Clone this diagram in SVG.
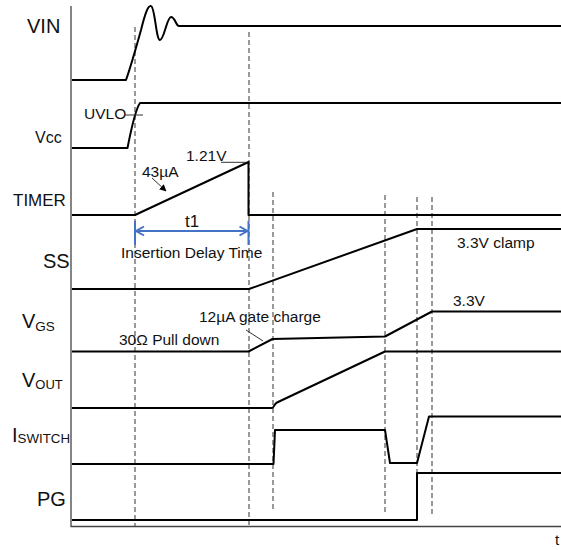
<svg xmlns="http://www.w3.org/2000/svg" width="561" height="550" viewBox="0 0 561 550">
<defs>
<style>
.sig{fill:none;stroke:#000;stroke-width:2;stroke-linejoin:round}
.axis{fill:none;stroke:#444;stroke-width:1.3}
.dash{fill:none;stroke:#555;stroke-width:1.2;stroke-dasharray:5,3}
.lbl{font-family:"Liberation Sans",Arial,sans-serif;fill:#111}
.ann{font-family:"Liberation Sans",Arial,sans-serif;font-size:15.5px;fill:#111}
.lead{fill:none;stroke:#333;stroke-width:1}
.blue{fill:none;stroke:#4472C4;stroke-width:2}
</style>
<marker id="ah" viewBox="0 0 10 10" refX="9" refY="5" markerWidth="7" markerHeight="7" orient="auto">
<path d="M0,0 L10,5 L0,10 z" fill="#000"/>
</marker>
</defs>
<rect width="561" height="550" fill="#fff"/>

<g id="axes">
<path class="axis" d="M71,6 V526.5 H561"/>
<text class="lbl" x="555" y="545" font-size="15">t</text>
</g>

<g id="guides">
<path class="dash" d="M135,27 V526"/>
<path class="dash" d="M249,32 V526"/>
<path class="dash" d="M273,192 V510"/>
<path class="dash" d="M385,195 V513"/>
<path class="dash" d="M417,197 V473"/>
<path class="dash" d="M432,197 V515"/>
</g>

<g id="vin">
<text class="lbl" x="27" y="33" font-size="20">VIN</text>
<path class="sig" d="M72,80 L126,80 C131,66 136,48 141,30 C145,14 148,5 151,6 C155,7 156,40 160,40 C164,40 167,17 171,17 C175,17 176,26 179,26 L561,26"/>
</g>

<g id="vcc">
<text class="lbl" x="35" y="143" font-size="16">Vcc</text>
<path class="sig" d="M72,148 L127.5,148 C131,130 135,110 140,103 L561,103"/>
<text class="ann" x="84" y="119">UVLO</text>
<path class="lead" d="M125,115 H143"/>
</g>

<g id="timer">
<text class="lbl" x="13" y="206" font-size="17">TIMER</text>
<path class="sig" d="M72,215 L135,215 L248.5,162 L248.5,215 L561,215"/>
<text class="ann" x="186" y="161">1.21V</text>
<path class="lead" d="M221,162.3 H246" stroke="#555"/>
<text class="ann" x="142" y="177">43µA</text>
<path class="lead" d="M152,178 L166,191" stroke-width="1.2" marker-end="url(#ah)"/>
</g>

<g id="t1">
<path class="blue" d="M135,221 V245 M248.5,221 V245"/>
<path class="blue" d="M136,231 H247.5 M144,226.5 L136,231 L144,235.5 M239.5,226.5 L247.5,231 L239.5,235.5"/>
<text class="ann" x="185" y="227" style="font-size:17px">t1</text>
<text class="ann" x="121" y="258">Insertion Delay Time</text>
</g>

<g id="ss">
<text class="lbl" x="43" y="268" font-size="20">SS</text>
<path class="sig" d="M72,289 L249,289 L417,229 L561,229"/>
<text class="ann" x="457" y="248">3.3V clamp</text>
</g>

<g id="vgs">
<text class="lbl" x="22" y="328" font-size="20">V<tspan font-size="13.5" dy="3">GS</tspan></text>
<path class="sig" d="M72,351.5 L248.5,351.5 L272.5,339 L385,336.5 L432,311.5 L561,311.5"/>
<text class="ann" x="453" y="306">3.3V</text>
<text class="ann" x="199" y="322">12µA gate charge</text>
<path class="lead" d="M246,330 L263,341"/>
<text class="ann" x="119" y="345">30Ω Pull down</text>
</g>

<g id="vout">
<text class="lbl" x="22" y="387" font-size="20">V<tspan font-size="13" dy="2">OUT</tspan></text>
<path class="sig" d="M72,408 L272,408 C274,408 274,404 277,402.5 L385,351.5 L561,351.5"/>
</g>

<g id="iswitch">
<text class="lbl" x="12" y="442" font-size="20">I<tspan font-size="13.3" dy="1">SWITCH</tspan></text>
<path class="sig" d="M72,464 L273.5,464 L275,430 L385,430 L390,463 L417,463 L429,416.5 L561,416.5"/>
</g>

<g id="pg">
<text class="lbl" x="37" y="506" font-size="20">PG</text>
<path class="sig" d="M72,520 L417,520 L417,473 L561,473"/>
</g>
</svg>
